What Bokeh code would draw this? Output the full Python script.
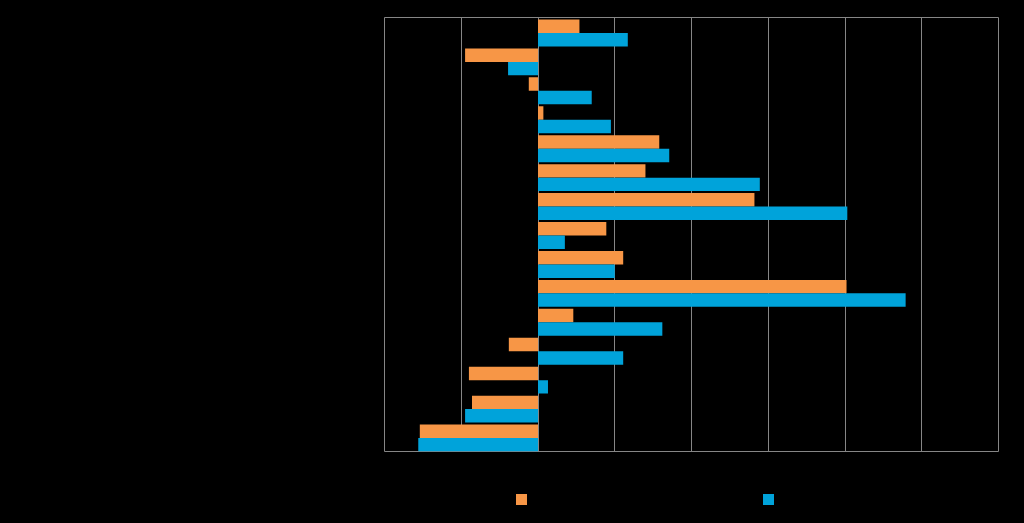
from bokeh.plotting import figure
from bokeh.layouts import column
from bokeh.models import FactorRange, Range1d, ColumnDataSource, SingleIntervalTicker, Div
from bokeh.transform import dodge
from bokeh.embed import file_html
from bokeh.resources import INLINE

# Categories listed top to bottom (labels are not legible in the reference)
categories = ["Item 1", "Item 2", "Item 3", "Item 4", "Item 5", "Item 6", "Item 7", "Item 8",
              "Item 9", "Item 10", "Item 11", "Item 12", "Item 13", "Item 14", "Item 15"]
series_a_name = "Series A"
series_b_name = "Series B"
series_a = [2.7, -4.75, -0.6, 0.35, 7.9, 7.0, 14.1, 4.45, 5.55, 20.1, 2.3, -1.9, -4.5, -4.3, -7.7]
series_b = [5.85, -1.95, 3.5, 4.75, 8.55, 14.45, 20.15, 1.75, 5.0, 23.95, 8.1, 5.55, 0.65, -4.75, -7.8]
x_ticks_start, x_ticks_end, x_tick_step = -10, 30, 5

ORANGE = "#F79646"
BLUE = "#00A3DA"
GRID = "#868686"

cats_rev = list(reversed(categories))
p = figure(width=1024, height=470,
           y_range=FactorRange(factors=cats_rev),
           x_range=Range1d(x_ticks_start, x_ticks_end),
           output_backend="svg", toolbar_location=None,
           min_border_left=384, min_border_right=26, min_border_top=17, min_border_bottom=19)
p.background_fill_alpha = 0
p.border_fill_alpha = 0

src = ColumnDataSource(dict(cat=categories, a=series_a, b=series_b))
p.hbar(y=dodge("cat", 0.1985, range=p.y_range), left=0, right="a", height=0.465,
       fill_color=ORANGE, line_color=None, source=src)
p.hbar(y=dodge("cat", -0.267, range=p.y_range), left=0, right="b", height=0.465,
       fill_color=BLUE, line_color=None, source=src)

p.xaxis.ticker = SingleIntervalTicker(interval=x_tick_step)
for ax in (p.xaxis, p.yaxis):
    ax.axis_line_color = None
    ax.major_tick_line_color = None
    ax.minor_tick_line_color = None
    ax.major_label_text_color = "black"
    ax.major_label_text_font_size = "10px"
    ax.major_label_standoff = 2
p.xgrid.grid_line_color = GRID
p.xgrid.grid_line_width = 1
p.ygrid.grid_line_color = None
p.outline_line_color = GRID
p.outline_line_width = 1

# Legend strip below the chart (HTML, black labels as in the reference)
def key(left, color, label):
    return (f'<span style="position:absolute;left:{left}px;top:24px;width:11px;height:11px;'
            f'background:{color};"></span>'
            f'<span style="position:absolute;left:{left + 16}px;top:22px;color:#000;'
            f'font:11px \'Liberation Sans\', sans-serif;white-space:nowrap;">{label}</span>')

legend_html = ('<div style="position:relative;width:1024px;height:53px;background:#000;">'
               + key(516, ORANGE, series_a_name) + key(763, BLUE, series_b_name) + '</div>')
legend_div = Div(text=legend_html, width=1024, height=53,
                 styles={"margin": "0", "padding": "0"})

layout = column(p, legend_div, spacing=0)
html = file_html(layout, INLINE)
html = html.replace("<head>", "<head><style>html,body{background:#000;}</style>", 1)
open("out.html", "w").write(html)
